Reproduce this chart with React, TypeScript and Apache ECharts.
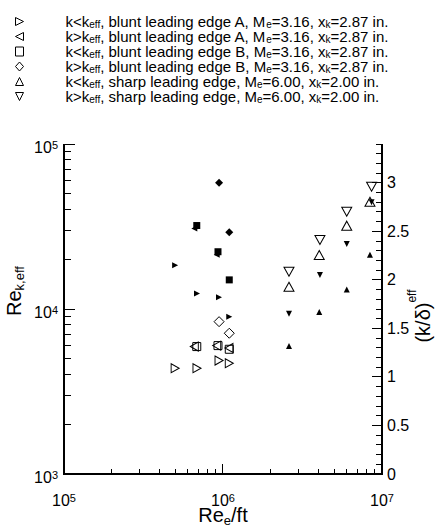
import React, { useEffect, useRef } from 'react';
import * as echarts from 'echarts';

const FONT = '"Liberation Sans", Arial, Helvetica, sans-serif';

// Legend entries (subscripts written with "_")
const legendNames = [
  'k<k_eff, blunt leading edge A, M_e=3.16, x_k=2.87 in.',
  'k>k_eff, blunt leading edge A, M_e=3.16, x_k=2.87 in.',
  'k<k_eff, blunt leading edge B, M_e=3.16, x_k=2.87 in.',
  'k>k_eff, blunt leading edge B, M_e=3.16, x_k=2.87 in.',
  'k<k_eff, sharp leading edge, M_e=6.00, x_k=2.00 in.',
  'k>k_eff, sharp leading edge, M_e=6.00, x_k=2.00 in.',
];

// Re_e/ft of each group
const bluntALowX = [5.0e5, 6.86e5, 9.44e5, 1.095e6];
const bluntAHighX = [6.6e5, 9.13e5, 1.09e6];
const bluntBLowX = [6.84e5, 9.3e5, 1.095e6];
const bluntBHighX = [9.45e5, 1.095e6];
const sharpLowX = [2.6e6, 4.03e6, 6.0e6, 8.4e6];
const sharpHighX = [2.6e6, 4.07e6, 6.0e6, 8.6e6];

// Re_k,eff (left axis, open symbols)
const bluntALowRe = [4380, 4380, 4870, 4690];
const bluntAHighRe = [5920, 6000, 5810];
const bluntBLowRe = [5920, 6000, 5700];
const bluntBHighRe = [8380, 7130];
const sharpLowRe = [13650, 21230, 31990, 44670];
const sharpHighRe = [16830, 26180, 38900, 55080];

// (k/delta)_eff (right axis, filled symbols)
const bluntALowKd = [2.15, 1.86, 1.82, 1.62];
const bluntAHighKd = [2.53, 2.26, 2.0];
const bluntBLowKd = [2.56, 2.29, 2.0];
const bluntBHighKd = [3.0, 2.49];
const sharpLowKd = [1.32, 1.67, 1.9, 2.26];
const sharpHighKd = [1.65, 2.05, 2.37, 2.8];

// axis ranges
const X_MIN = 1e5;
const X_MAX = 1e7;
const Y_MIN = 1e3;
const Y_MAX = 1e5;
const R_MIN = 0;
const R_MAX = 3.4;

// tick values
const xMajorTicks = [1e5, 1e6, 1e7];
const yMajorTicks = [1e3, 1e4, 1e5];
const rightMajorTicks = [0, 0.5, 1, 1.5, 2, 2.5, 3];
const rightMinorTicks = [
  0.1, 0.2, 0.3, 0.4, 0.6, 0.7, 0.8, 0.9, 1.1, 1.2, 1.3, 1.4, 1.6, 1.7, 1.8, 1.9,
  2.1, 2.2, 2.3, 2.4, 2.6, 2.7, 2.8, 2.9, 3.1, 3.2, 3.3, 3.4,
];
const xMinorTicks = [
  2e5, 3e5, 4e5, 5e5, 6e5, 7e5, 8e5, 9e5, 2e6, 3e6, 4e6, 5e6, 6e6, 7e6, 8e6, 9e6,
];
const yMinorTicks = [
  2e3, 3e3, 4e3, 5e3, 6e3, 7e3, 8e3, 9e3, 2e4, 3e4, 4e4, 5e4, 6e4, 7e4, 8e4, 9e4,
];

const SYM = {
  right: 'path://M0,0L10,5L0,10Z',
  left: 'path://M10,0L0,5L10,10Z',
  up: 'path://M5,0L10,10L0,10Z',
  down: 'path://M0,0L10,0L5,10Z',
  square: 'rect',
  diamond: 'diamond',
};

const zip = (xs: number[], ys: number[]) => xs.map((x, i) => [x, ys[i]]);

const groups = [
  { x: bluntALowX, re: bluntALowRe, kd: bluntALowKd, sym: SYM.right, open: [8, 9], fill: 6 },
  { x: bluntAHighX, re: bluntAHighRe, kd: bluntAHighKd, sym: SYM.left, open: [8, 9], fill: 6 },
  { x: bluntBLowX, re: bluntBLowRe, kd: bluntBLowKd, sym: SYM.square, open: 8, fill: 7 },
  { x: bluntBHighX, re: bluntBHighRe, kd: bluntBHighKd, sym: SYM.diamond, open: 10, fill: 8 },
  { x: sharpLowX, re: sharpLowRe, kd: sharpLowKd, sym: SYM.up, open: [10, 9], fill: 6 },
  { x: sharpHighX, re: sharpHighRe, kd: sharpHighKd, sym: SYM.down, open: [10, 9], fill: 6 },
];

const supRich = {
  b: { fontSize: 16, fontFamily: FONT, color: '#000', lineHeight: 16 },
  s: { fontSize: 11, fontFamily: FONT, color: '#000', lineHeight: 1, verticalAlign: 'top' },
};
const powLabel = (v: number) => `{b|10}{s|${Math.round(Math.log10(v))}}`;

// turn "k<k_eff, ..." into rich tokens (all text inside tokens so line height is fixed)
const legendRich = (name: string) => {
  const parts = name.split(/_(eff|e|k)/);
  let out = '{sp| }';
  parts.forEach((p, i) => {
    if (!p) return;
    out += i % 2 === 1 ? `{sub|${p}}` : `{t|${p}}`;
  });
  return out;
};

export default function App() {
  const ref = useRef<HTMLDivElement>(null);
  useEffect(() => {
    if (!ref.current) return;
    document.body.style.margin = '0';
    const chart = echarts.init(ref.current, null, { renderer: 'svg', width: 435, height: 528 });

    const openSeries = groups.map((g, i) => ({
      name: legendNames[i],
      type: 'scatter',
      xAxisIndex: 0,
      yAxisIndex: 0,
      data: zip(g.x, g.re),
      symbol: g.sym,
      symbolSize: g.open,
      itemStyle: { color: 'rgba(255,255,255,0)', borderColor: '#000', borderWidth: 1, opacity: 1 },
      emphasis: { disabled: true },
      silent: true,
      z: 3,
    }));
    const filledSeries = groups.map((g, i) => ({
      name: legendNames[i] + ' (k/δ)_eff',
      type: 'scatter',
      xAxisIndex: 0,
      yAxisIndex: 1,
      data: zip(g.x, g.kd),
      symbol: g.sym,
      symbolSize: g.fill,
      itemStyle: { color: '#000', opacity: 1 },
      emphasis: { disabled: true },
      silent: true,
      z: 4,
    }));

    // tick marks drawn as thin filled rects at axis-scale positions
    const tickSeries = (data: number[][], yi: number, dir: string, len: number) => ({
      type: 'custom',
      xAxisIndex: 0,
      yAxisIndex: yi,
      silent: true,
      clip: false,
      z: 5,
      data,
      renderItem: (_p: any, api: any) => {
        const p = api.coord([api.value(0), api.value(1)]);
        let shape: any;
        if (dir === 'up') shape = { x: Math.round(p[0] - 0.5), y: p[1] - len, width: 1, height: len };
        else if (dir === 'right') shape = { x: p[0], y: Math.round(p[1] - 0.5), width: len, height: 1 };
        else shape = { x: p[0] - len, y: Math.round(p[1] - 0.5), width: len, height: 1 };
        return { type: 'rect', shape, style: { fill: '#000' } };
      },
    });

    // axis lines (bottom, left, right) drawn from the axes' extents
    const frameSeries = {
      type: 'custom',
      xAxisIndex: 0,
      yAxisIndex: 0,
      silent: true,
      clip: false,
      z: 6,
      data: [[X_MIN, Y_MIN, X_MAX, Y_MAX]],
      renderItem: (_p: any, api: any) => {
        const bl = api.coord([api.value(0), api.value(1)]);
        const tr = api.coord([api.value(2), api.value(3)]);
        const x0 = Math.round(bl[0]);
        const x1 = Math.round(tr[0]);
        const y0 = Math.round(bl[1]);
        const y1 = Math.round(tr[1]);
        return {
          type: 'group',
          children: [
            { type: 'rect', shape: { x: x0 - 1, y: y0 - 1, width: x1 - x0 + 2, height: 2 }, style: { fill: '#000' } },
            { type: 'rect', shape: { x: x0 - 1, y: y1, width: 2, height: y0 - y1 + 1 }, style: { fill: '#000' } },
            { type: 'rect', shape: { x: x1 - 1, y: y1, width: 2, height: y0 - y1 + 1 }, style: { fill: '#000' } },
          ],
        };
      },
    };

    const hiddenLine = { show: false };
    const option: any = {
      animation: false,
      tooltip: { show: false },
      grid: { left: 64, top: 144, width: 318, height: 330, containLabel: false, show: false },
      legend: {
        orient: 'vertical',
        left: 10,
        top: 9,
        itemWidth: 8,
        itemHeight: 9,
        itemGap: 0,
        selectedMode: false,
        data: legendNames,
        itemStyle: { borderWidth: 1, borderColor: '#000' },
        formatter: legendRich,
        textStyle: {
          fontFamily: FONT,
          fontSize: 15,
          lineHeight: 15,
          color: '#000',
          rich: {
            sp: { width: 37, fontSize: 15, fontFamily: FONT, lineHeight: 15 },
            t: { fontSize: 15, fontFamily: FONT, color: '#000', lineHeight: 15 },
            sub: { fontSize: 10, fontFamily: FONT, color: '#000', lineHeight: 5, verticalAlign: 'bottom' },
          },
        },
      },
      xAxis: [
        {
          type: 'log',
          logBase: 10,
          min: X_MIN,
          max: X_MAX,
          position: 'bottom',
          axisLine: hiddenLine,
          axisTick: hiddenLine,
          splitLine: { show: false },
          minorTick: { show: false },
          axisLabel: { formatter: powLabel, rich: supRich, margin: 18 },
        },
      ],
      yAxis: [
        {
          type: 'log',
          logBase: 10,
          min: Y_MIN,
          max: Y_MAX,
          position: 'left',
          axisLine: hiddenLine,
          axisTick: hiddenLine,
          splitLine: { show: false },
          axisLabel: { formatter: powLabel, rich: supRich, margin: 6, padding: [6, 0, 0, 0] },
        },
        {
          type: 'value',
          min: R_MIN,
          max: R_MAX,
          interval: 0.5,
          position: 'right',
          axisLine: hiddenLine,
          axisTick: hiddenLine,
          splitLine: { show: false },
          axisLabel: {
            customValues: rightMajorTicks,
            fontFamily: FONT,
            fontSize: 16,
            color: '#000',
            margin: 5,
          },
        },
      ],
      graphic: [
        {
          type: 'text',
          x: 14,
          y: 291,
          rotation: Math.PI / 2,
          silent: true,
          style: {
            text: 'Re{sub|k,eff}',
            fontFamily: FONT,
            fontSize: 20,
            lineHeight: 24,
            fill: '#000',
            align: 'center',
            verticalAlign: 'middle',
            rich: { sub: { fontSize: 13, fontFamily: FONT, fill: '#000', lineHeight: 8, verticalAlign: 'bottom' } },
          },
        },
        {
          type: 'text',
          x: 423,
          y: 316,
          rotation: Math.PI / 2,
          silent: true,
          style: {
            text: '(k/δ){sup|eff}',
            fontFamily: FONT,
            fontSize: 20,
            lineHeight: 34,
            fill: '#000',
            align: 'center',
            verticalAlign: 'middle',
            rich: { sup: { fontSize: 12, fontFamily: FONT, fill: '#000', lineHeight: 6, verticalAlign: 'top' } },
          },
        },
        {
          type: 'text',
          x: 223,
          y: 515,
          silent: true,
          style: {
            text: 'Re{sub|e}/ft',
            fontFamily: FONT,
            fontSize: 20,
            lineHeight: 24,
            fill: '#000',
            align: 'center',
            verticalAlign: 'middle',
            rich: { sub: { fontSize: 13, fontFamily: FONT, fill: '#000', lineHeight: 8, verticalAlign: 'bottom' } },
          },
        },
      ],
      series: [
        ...openSeries,
        ...filledSeries,
        frameSeries,
        tickSeries(xMajorTicks.map((v) => [v, Y_MIN]), 0, 'up', 10),
        tickSeries(xMinorTicks.map((v) => [v, Y_MIN]), 0, 'up', 5),
        tickSeries(yMajorTicks.map((v) => [X_MIN, v]), 0, 'right', 11),
        tickSeries(yMinorTicks.map((v) => [X_MIN, v]), 0, 'right', 7),
        tickSeries(rightMajorTicks.map((v) => [X_MAX, v]), 1, 'left', 10),
        tickSeries(rightMinorTicks.map((v) => [X_MAX, v]), 1, 'left', 6),
      ],
    };
    chart.setOption(option);
    return () => chart.dispose();
  }, []);
  return <div ref={ref} style={{ width: 435, height: 528 }} />;
}
